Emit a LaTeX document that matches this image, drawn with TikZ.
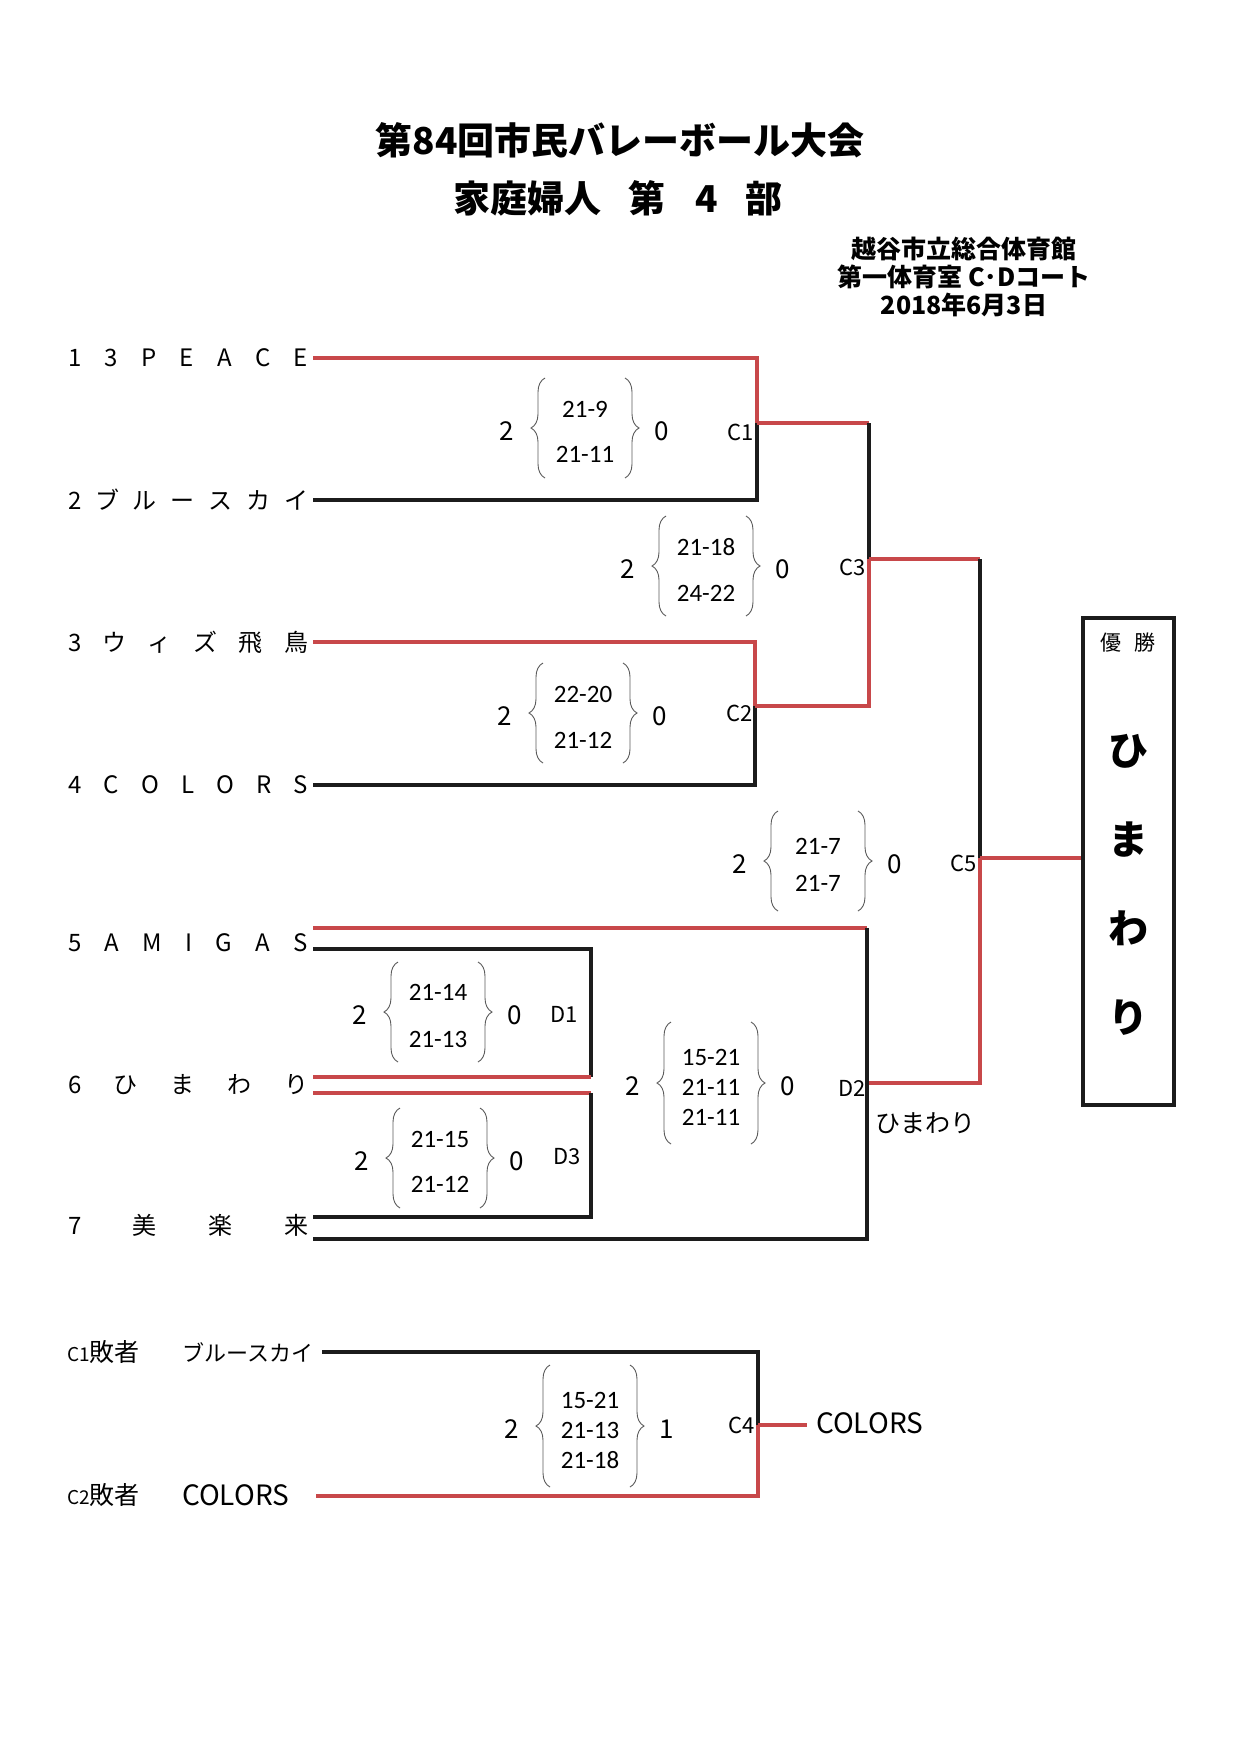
\documentclass[tikz,border=0pt]{standalone}
\usepackage{fontspec}
\setmainfont{Noto Sans CJK JP}
\newfontfamily\scorefont{Carlito}
\usetikzlibrary{decorations.pathreplacing}

\definecolor{winred}{RGB}{200,72,74}
\definecolor{loseblack}{RGB}{28,28,28}
\definecolor{bracegray}{RGB}{90,90,90}

\tikzset{
	win/.style={draw=winred, line width=4.5pt},
	lose/.style={draw=loseblack, line width=4.5pt},
	team/.style={anchor=west, inner sep=0pt, outer sep=5pt, font=\fontsize{24}{28}\selectfont},
	setnum/.style={inner sep=0pt, font=\fontsize{26}{30}\selectfont},
	code/.style={anchor=east, inner sep=0pt, font=\fontsize{22}{26}\selectfont},
	brc/.style={draw=bracegray, line width=0.9pt, decorate, decoration={brace, amplitude=14pt}},
}

% name, centre x, centre y, half height, line skip, scores, left, right
\newcommand\matchset[8]{%
	\node[setnum] (#1l) at (#2-78,#3+3) {#7};
	\node[setnum] (#1r) at (#2+77,#3+3) {#8};
	\draw[brc] (#2-40,#3+#4) -- (#2-40,#3-#4);
	\draw[brc] (#2+40,#3-#4) -- (#2+40,#3+#4);
	\node[inner sep=0pt, align=center, font=\scorefont\fontsize{25}{#5}\selectfont] (#1s) at (#2,#3+4) {#6};
}

\begin{document}
\begin{tikzpicture}[x=1pt, y=-1pt]

	\useasboundingbox (0,0) rectangle (1240,1754);

	% Titel
	\node[font=\fontsize{37}{44}\selectfont\bfseries] (title) at (620,140) {第84回市民バレーボール大会};
	\node[font=\fontsize{37}{44}\selectfont\bfseries] (sub) at (618,198) {家庭婦人\hspace{27pt}第\hspace{30pt}4\hspace{27pt}部};
	\node[align=center, font=\fontsize{25}{28}\selectfont\bfseries] (venue) at (964,277) {越谷市立総合体育館\\第一体育室 C･Dコート\\2018年6月3日};

	% Teams
	\node[team] (t1) at (63,358) {\makebox[240pt][s]{1\hfill 3\hfill P\hfill E\hfill A\hfill C\hfill E}};
	\node[team] (t2) at (63,500) {\makebox[240pt][s]{2\hfill ブ\hfill ル\hfill ー\hfill ス\hfill カ\hfill イ}};
	\node[team] (t3) at (63,642) {\makebox[240pt][s]{3\hfill ウ\hfill ィ\hfill ズ\hfill 飛\hfill 鳥}};
	\node[team] (t4) at (63,785) {\makebox[240pt][s]{4\hfill C\hfill O\hfill L\hfill O\hfill R\hfill S}};
	\node[team] (t5) at (63,943) {\makebox[240pt][s]{5\hfill A\hfill M\hfill I\hfill G\hfill A\hfill S}};
	\node[team] (t6) at (63,1085) {\makebox[240pt][s]{6\hfill ひ\hfill ま\hfill わ\hfill り}};
	\node[team] (t7) at (63,1225) {\makebox[240pt][s]{7\hfill 美\hfill 楽\hfill 来}};

	% C Block
	\coordinate (c1) at (757,423);
	\coordinate (c2) at (755,706);
	\coordinate (c3) at (869,559);
	\coordinate (c5) at (980,858);
	\coordinate (d2) at (867,1083);

	\draw[win] (t1.east) -| (c1);
	\draw[lose] (t2.east) -| (c1);
	\draw[win] (t3.east) -| (c2);
	\draw[lose] (t4.east) -| (c2);
	\draw[win] (c1) -- (c1 -| c3);
	\draw[lose] (c1 -| c3) -- (c3);
	\draw[win] (c2) -| (c3);
	\draw[win] (c3) -- (c3 -| c5);
	\draw[lose] (c3 -| c5) -- (c5);
	\draw[win] (d2) -| (c5);

	% D Block
	\coordinate (a5) at (313,928);
	\coordinate (b5) at (313,949);
	\coordinate (a6) at (313,1077);
	\coordinate (b6) at (313,1093);
	\coordinate (a7) at (313,1217);
	\coordinate (b7) at (313,1239);
	\coordinate (d1) at (591,1077);
	\coordinate (d3) at (591,1093);

	\draw[lose] (b5) -| (d1);
	\draw[win] (a6) -- (d1);
	\draw[win] (b6) -- (d3);
	\draw[lose] (a7) -| (d3);
	\draw[win] (a5) -- (a5 -| d2);
	\draw[lose] (a5 -| d2) -- (d2);
	\draw[lose] (b7) -| (d2);

	% Sieger
	\node[draw=loseblack, line width=4.5pt, minimum width=91pt, minimum height=487pt] (champ) at (1128.5,861.5) {};
	\draw[win] (c5) -- (c5 -| champ.west);
	\node[font=\fontsize{21}{24}\selectfont] (yusho) at (1128,643) {優\hspace{14pt}勝};
	\node[align=center, font=\fontsize{40}{89}\selectfont\bfseries] (champname) at (1128,885) {ひ\\ま\\わ\\り};
	\node[font=\fontsize{25}{30}\selectfont] (d2win) at (925,1123) {ひまわり};

	% Spiele
	\matchset{m1}{585}{428}{50}{45}{21-9\\21-11}{2}{0}
	\matchset{m2}{583}{713}{50}{46}{22-20\\21-12}{2}{0}
	\matchset{m3}{706}{566}{50}{46}{21-18\\24-22}{2}{0}
	\matchset{m5}{818}{861}{50}{37}{21-7\\21-7}{2}{0}
	\matchset{md1}{438}{1012}{50}{47}{21-14\\21-13}{2}{0}
	\matchset{md3}{440}{1158}{50}{45}{21-15\\21-12}{2}{0}
	\matchset{md2}{711}{1083}{61}{30}{15-21\\21-11\\21-11}{2}{0}
	\matchset{m4}{590}{1426}{61}{30}{15-21\\21-13\\21-18}{2}{1}

	\node[code] (lc1) at (754,432) {C1};
	\node[code] (lc2) at (753,713) {C2};
	\node[code] (lc3) at (866,567) {C3};
	\node[code] (lc5) at (977,863) {C5};
	\node[code] (ld1) at (578,1014) {D1};
	\node[code] (ld3) at (581,1157) {D3};
	\node[code] (ld2) at (866,1088) {D2};
	\node[code] (lc4) at (755,1425) {C4};

	% C4
	\node[anchor=west, inner sep=0pt, font=\fontsize{25}{28}\selectfont] (l1) at (67,1352) {{\fontsize{19}{22}\selectfont C1}敗者};
	\node[anchor=west, inner sep=0pt, font=\fontsize{22}{26}\selectfont] (n1) at (182,1352) {ブルースカイ};
	\node[anchor=west, inner sep=0pt, font=\fontsize{25}{28}\selectfont] (l2) at (67,1495) {{\fontsize{19}{22}\selectfont C2}敗者};
	\node[anchor=west, inner sep=0pt, font=\fontsize{28}{32}\selectfont] (n2) at (182,1495) {COLORS};
	\node[anchor=west, inner sep=9pt, font=\fontsize{28}{32}\selectfont] (c4name) at (807,1423) {COLORS};

	\coordinate (c4) at (758,1425);
	\coordinate (e1) at (322,1352);
	\coordinate (e2) at (316,1496);
	\draw[lose] (e1) -| (c4);
	\draw[win] (e2) -| (c4);
	\draw[win] (c4) -- (c4 -| c4name.west);

\end{tikzpicture}
\end{document}
